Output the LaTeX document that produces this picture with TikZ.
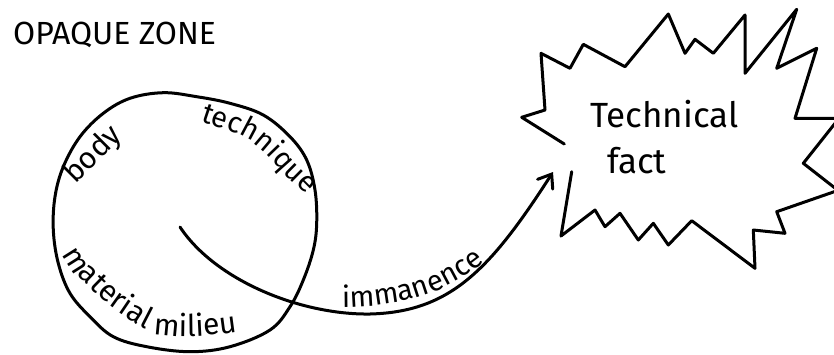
\documentclass[tikz,border=0pt]{standalone}
\usepackage{fontspec}
\setmainfont{Fira Sans}
\usetikzlibrary{arrows.meta,decorations.text}
\tikzset{
  ink/.style={line width=3pt, line cap=round, line join=round, draw=black},
  curvelbl/.style={decorate, decoration={text along path, text={#1}}},
}
\begin{document}
\begin{tikzpicture}[x=1pt,y=-1pt]
\useasboundingbox (0,0) rectangle (834,354);
\clip (0,0) rectangle (834,354);
% title
\node[anchor=base west, inner sep=0pt, font=\fontsize{32}{36}\selectfont] (title) at (13,44) {OPAQUE ZONE};
% circle
\draw[ink] plot[smooth cycle, tension=0.6] coordinates {(130,98.3) (163.3,92.7) (196.7,96.7) (230,103.3) (263.3,115) (290,136.7) (306.7,160) (315,190) (316.7,223.3) (313.3,250) (303.3,280) (290,306.7) (270,330) (230,346.7) (190,351.7) (146.7,346.7) (113.3,336.7) (90,316.7) (70,293.3) (58.3,263.3) (53.3,230) (55,196.7) (63.3,166.7) (80,136.7) (103.3,113.3)};
% labels inside circle
\node[anchor=base west, inner sep=0pt, rotate=45, font=\fontsize{30}{34}\selectfont] (body) at (75,185) {body};
\path[curvelbl={|\fontsize{29}{33}\selectfont|technique}] plot[smooth] coordinates {(200,121) (218,127) (233,132) (248,139) (262,150) (272,160) (282,171) (292,181) (304,193) (315,207) (325,222)};
\path[curvelbl={|\fontsize{30}{35}\selectfont|material milieu}] plot[smooth] coordinates {(62,254) (70,268) (85,283) (105,302) (123,315) (142,327) (162,335) (200,336) (242,331) (262,326) (282,320)};
% starburst
\draw[ink] (564.3,144) -- (521.7,117.3) -- (545,110) -- (541,53.3) -- (570,68.3) -- (583.3,44.3) -- (625,66.7) -- (668.3,14) -- (685,53.3) -- (695,39.3) -- (713.3,53.3) -- (745,15) -- (745,73.3) -- (796.7,9.3) -- (776.7,68.3) -- (816.7,48.3) -- (795,118.3) -- (839,118.3) -- (803.3,163.3) -- (838,190.4) -- (776.7,211.7) -- (785,233.3) -- (753.3,230) -- (755,268.3) -- (691.7,220.7) -- (668.3,245) -- (653.3,223.3) -- (638.3,240) -- (620,213.3) -- (605,226.7) -- (595,210) -- (561,236) -- (571.7,171.7);
\node[anchor=base west, inner sep=0pt, font=\fontsize{35}{40}\selectfont] (tech) at (590,127) {Technical};
\node[anchor=base west, inner sep=0pt, font=\fontsize{35}{40}\selectfont] (fact) at (607,173) {fact};
% arrow
\coordinate (src) at (180,227);
\coordinate (tip) at (553,172);
\draw[ink, -{Straight Barb[length=12pt,width=18pt,line cap=round]}] (src) .. controls (215,280) and (300,315) .. (370,314) .. controls (450,312) and (490,270) .. (tip);
\path[curvelbl={|\fontsize{29}{33}\selectfont|immanence}] (342,307) .. controls (400,307) and (455,295) .. (505,243);
\end{tikzpicture}
\end{document}
